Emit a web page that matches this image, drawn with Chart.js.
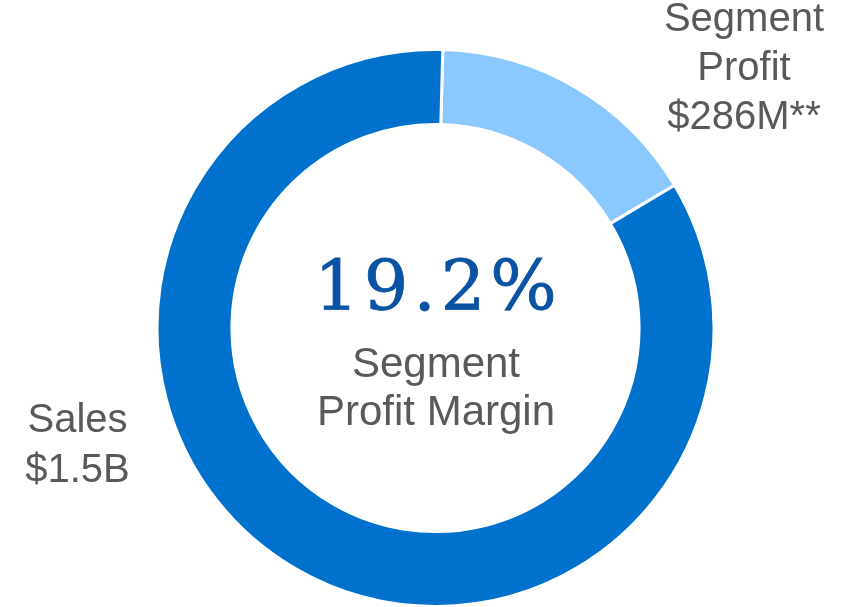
<!DOCTYPE html>
<html>
<head>
<meta charset="utf-8">
<script src="https://cdn.jsdelivr.net/npm/chart.js@4/dist/chart.umd.min.js"></script>
<style>
  html, body { margin: 0; padding: 0; background: #ffffff; }
  #wrap { position: relative; width: 843px; height: 607px; overflow: hidden; }
  #c { position: absolute; left: 0; top: 0; }
  .lbl { position: absolute; font-family: "Liberation Sans", Arial, sans-serif; color: #595959;
         font-size: 40px; text-align: center; white-space: nowrap; }
  #centerLbl { font-size: 42px; }
  #big { position: absolute; font-family: "DejaVu Serif", "Liberation Serif", serif; color: #0a52a3;
         font-size: 70px; line-height: 70px; text-align: center; white-space: nowrap; letter-spacing: 5px;
         -webkit-text-stroke: 0.8px #0a52a3; }
</style>
</head>
<body>
<div id="wrap">
  <canvas id="c" width="843" height="607"></canvas>
  <div id="big"></div>
  <div id="centerLbl" class="lbl"></div>
  <div id="salesLbl" class="lbl"></div>
  <div id="profitLbl" class="lbl"></div>
</div>
<script>
// ---- data ----
const categories = ["Segment Profit", "Sales"];
const values = [286, 1500];            // $M
const sliceColors = ["#8ac8ff", "#0072ce"];
const marginText = "19.2%";
const centerLines = ["Segment", "Profit Margin"];
const salesLines = ["Sales", "$1.5B"];
const profitLines = ["Segment", "Profit", "$286M**"];

function setLines(id, lines, left, top, width, lh) {
  const el = document.getElementById(id);
  el.innerHTML = "";
  lines.forEach(t => { const d = document.createElement("div"); d.textContent = t; el.appendChild(d); });
  el.style.left = left + "px"; el.style.top = top + "px"; el.style.width = width + "px";
  el.style.lineHeight = lh + "px";
}

new Chart(document.getElementById("c"), {
  type: "doughnut",
  data: {
    labels: categories,
    datasets: [{
      data: values,
      backgroundColor: sliceColors,
      borderColor: "#ffffff",
      borderWidth: 3,
      radius: 278.5,
      cutout: "73.1%",
      rotation: 1.5
    }]
  },
  options: {
    responsive: false,
    devicePixelRatio: 1,
    animation: false,
    layout: { padding: { left: 28, right: 0, top: 49, bottom: 0 } },
    plugins: { legend: { display: false }, tooltip: { enabled: false } }
  }
});

const big = document.getElementById("big");
big.textContent = marginText;
big.style.left = "238px"; big.style.width = "400px"; big.style.top = "251px";

setLines("centerLbl", centerLines, 236, 339, 400, 48);
setLines("salesLbl", salesLines, 0, 393, 155, 50);
setLines("profitLbl", profitLines, 644, -7, 200, 49);
</script>
</body>
</html>
